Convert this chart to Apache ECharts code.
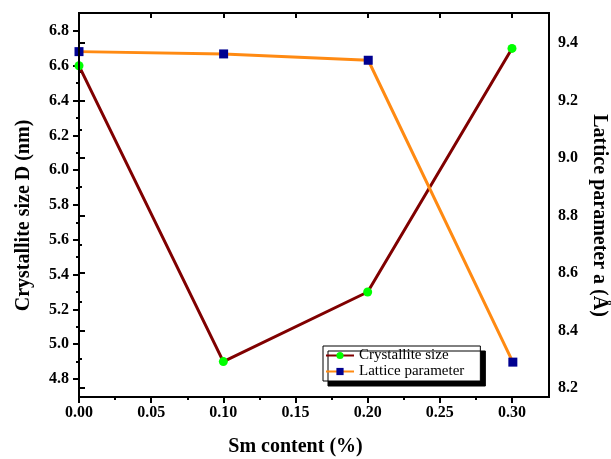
<!DOCTYPE html>
<html>
<head>
<meta charset="utf-8">
<script src="https://cdn.jsdelivr.net/npm/echarts@6/dist/echarts.min.js"></script>
<style>
html,body{margin:0;padding:0;background:#fff;}
#chart{width:611px;height:459px;}
</style>
</head>
<body>
<div id="chart"></div>
<script>
const smContent = [0, 0.1, 0.2, 0.3];
const crystalliteSize = [6.6, 4.9, 5.3, 6.7];
const latticeParam = [9.37, 9.362, 9.34, 8.29];
const seriesNames = ['Crystallite size', 'Lattice parameter'];
const xTitle = 'Sm content (%)';
const yLeftTitle = 'Crystallite size D (nm)';
const yRightTitle = 'Lattice parameter a (Å)';

const FONT = 'Liberation Serif';
const chart = echarts.init(document.getElementById('chart'), null, {renderer: 'canvas'});

const tickLabel = {fontFamily: FONT, fontWeight: 'bold', fontSize: 16, color: '#000'};
const titleStyle = {fontFamily: FONT, fontWeight: 'bold', fontSize: 20, color: '#000'};

const option = {
  animation: false,
  backgroundColor: '#fff',
  grid: [
    {left: 79, right: 62, top: 13, bottom: 62, show: true, borderColor: '#000', borderWidth: 2, backgroundColor: 'transparent', z: 10, outerBoundsMode: 'none', containLabel: false},
    {left: 79, right: 99, top: 31, bottom: 80, outerBoundsMode: 'none', containLabel: false},
    {left: 79, right: 62, top: 43, bottom: 71, outerBoundsMode: 'none', containLabel: false}
  ],
  xAxis: [
    {gridIndex: 0, type: 'value', min: 0, max: 1, show: false},
    {gridIndex: 1, type: 'value', position: 'bottom', offset: 18, min: 0, max: 0.3, interval: 0.05,
     axisLine: {show: false},
     axisTick: {show: true, inside: false, length: 6, lineStyle: {color: '#000', width: 2}},
     minorTick: {show: true, splitNumber: 2, length: 3, lineStyle: {color: '#000', width: 2}},
     axisLabel: Object.assign({margin: 8, formatter: v => v.toFixed(2)}, tickLabel),
     splitLine: {show: false},
     name: xTitle, nameLocation: 'middle', nameGap: 40, nameTextStyle: titleStyle},
    {gridIndex: 1, type: 'value', position: 'top', offset: 18, min: 0, max: 0.3, interval: 0.05,
     axisLine: {show: false},
     axisTick: {show: true, inside: true, length: 5, lineStyle: {color: '#000', width: 2}},
     axisLabel: {show: false}, splitLine: {show: false}},
    {gridIndex: 2, type: 'value', min: 0, max: 0.325, show: false}
  ],
  yAxis: [
    {gridIndex: 0, type: 'value', min: 0, max: 1, show: false},
    {gridIndex: 1, type: 'value', position: 'left', min: 4.8, max: 6.8, interval: 0.2,
     axisLine: {show: false},
     axisTick: {show: true, inside: false, length: 6, lineStyle: {color: '#000', width: 2}},
     minorTick: {show: true, splitNumber: 2, length: 3, lineStyle: {color: '#000', width: 2}},
     axisLabel: Object.assign({margin: 10, formatter: v => v.toFixed(1)}, tickLabel),
     splitLine: {show: false}},
    {gridIndex: 2, type: 'value', position: 'right', min: 8.2, max: 9.4, interval: 0.2,
     axisLine: {show: false},
     axisTick: {show: true, inside: false, length: 6, lineStyle: {color: '#000', width: 2}},
     minorTick: {show: true, splitNumber: 2, length: 3, lineStyle: {color: '#000', width: 2}},
     axisLabel: Object.assign({margin: 9, formatter: v => v.toFixed(1)}, tickLabel),
     splitLine: {show: false},
     name: yRightTitle, nameLocation: 'middle', nameGap: 35, nameRotate: -90, nameTextStyle: titleStyle},
    {gridIndex: 2, type: 'value', position: 'left', min: 8.2, max: 9.4,
     axisLine: {show: false}, axisTick: {show: false}, axisLabel: {show: false}, splitLine: {show: false},
     name: yLeftTitle, nameLocation: 'middle', nameGap: 45, nameTextStyle: titleStyle}
  ],
  legend: {
    orient: 'vertical', left: 323, top: 346,
    padding: [2, 16, 2, 2], itemGap: 1, itemWidth: 28, itemHeight: 9,
    backgroundColor: '#fff', borderColor: '#000', borderWidth: 1,
    shadowColor: '#000', shadowOffsetX: 5, shadowOffsetY: 5, shadowBlur: 0,
    textStyle: {fontFamily: FONT, fontSize: 15, color: '#000'},
    data: seriesNames
  },
  series: [
    {type: 'line', name: seriesNames[0], xAxisIndex: 1, yAxisIndex: 1, clip: false,
     data: smContent.map((x, i) => [x, crystalliteSize[i]]),
     symbol: 'circle', symbolSize: 9,
     lineStyle: {color: '#800000', width: 3},
     itemStyle: {color: '#00ff00'}},
    {type: 'line', name: seriesNames[1], xAxisIndex: 3, yAxisIndex: 2, clip: false,
     data: smContent.map((x, i) => [x, latticeParam[i]]),
     symbol: 'rect', symbolSize: 9,
     lineStyle: {color: '#ff8a12', width: 3},
     itemStyle: {color: '#000090'}}
  ]
};
chart.setOption(option);
</script>
</body>
</html>
